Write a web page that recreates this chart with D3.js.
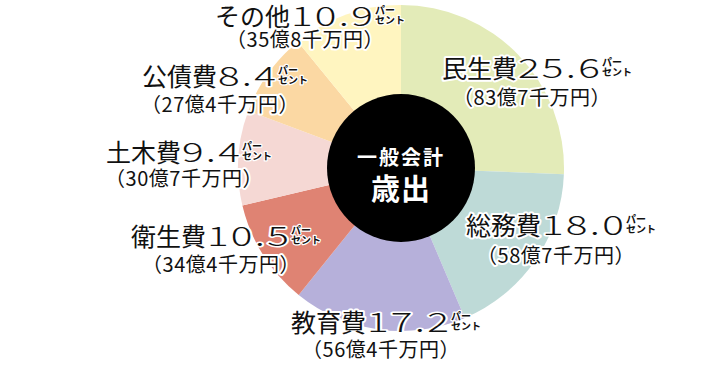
<!DOCTYPE html>
<html><head><meta charset="utf-8">
<script src="https://cdn.jsdelivr.net/npm/d3@7"></script>
<style>
html,body{margin:0;padding:0;background:#fff;}
svg{display:block;}
text{font-family:"Noto Sans CJK JP","Noto Sans",sans-serif;}
</style></head><body>
<svg id="chart" width="711" height="382"></svg>
<script>
// data
const categories = ["民生費","総務費","教育費","衛生費","土木費","公債費","その他"];
const percents   = [25.6, 18.0, 17.2, 10.5, 9.4, 8.4, 10.9];
const okuValues  = [83, 58, 56, 34, 30, 27, 35];
const senValues  = [7, 7, 4, 4, 7, 4, 8];
const colors     = ["#e3ebb8","#bedad7","#b6b0da","#df8373","#f5d8d4","#fbd8a3","#fff5c0"];
const centerLines = ["一般会計","歳出"];

// layout
const cx = 401, cy = 168, R = 163, rIn = 74;
const labelPos = [
  {x:532, y1:78,  y2:105},
  {x:556, y1:235, y2:263},
  {x:381, y1:332, y2:357},
  {x:221, y1:246, y2:272},
  {x:184, y1:162, y2:186},
  {x:220, y1:86,  y2:112},
  {x:305, y1:26,  y2:47}
];

const svg = d3.select("#chart");
const data = categories.map((c,i)=>({name:c, pct:percents[i], oku:okuValues[i], sen:senValues[i], color:colors[i], pos:labelPos[i]}));

const pie = d3.pie().sort(null).value(d=>d.pct);
const arc = d3.arc().innerRadius(0).outerRadius(R);
const g = svg.append("g").attr("transform",`translate(${cx},${cy})`);
g.selectAll("path").data(pie(data)).join("path")
  .attr("d",arc).attr("fill",d=>d.data.color);

g.append("circle").attr("r",rIn).attr("fill","#000");
g.append("text").attr("text-anchor","middle").attr("y",-3)
  .attr("fill","#fff").attr("font-weight",700).attr("font-size",20).attr("letter-spacing",2)
  .text(centerLines[0]);
g.append("text").attr("text-anchor","middle").attr("y",32)
  .attr("fill","#fff").attr("font-weight",700).attr("font-size",29).attr("letter-spacing",1)
  .text(centerLines[1]);

const fmt = d3.format(".1f");
const labels = svg.append("g");
const halo = sel => sel.attr("fill","#111").attr("stroke","#fff").attr("stroke-linejoin","round").attr("paint-order","stroke");
const SX = 1.5;
data.forEach(d=>{
  const lg = labels.append("g");
  const kt = lg.append("text").attr("y",d.pos.y1).attr("font-size",25).attr("stroke-width",4).call(halo).text(d.name);
  const kw = kt.node().getComputedTextLength();
  const nt = lg.append("text").attr("font-size",27).attr("font-weight",300).attr("letter-spacing",1.5)
    .attr("stroke-width",3).call(halo).text(fmt(d.pct));
  const nw = nt.node().getComputedTextLength()*SX;
  const pw = 20, gap = 1;
  const total = kw + gap + nw + pw;
  const x0 = d.pos.x - total/2;
  kt.attr("x",x0);
  nt.attr("transform",`translate(${x0+kw+gap},${d.pos.y1}) scale(${SX},1)`);
  const px = x0 + kw + gap + nw;
  const pt = lg.append("text").attr("stroke-width",2.5).call(halo)
    .attr("font-size",10).attr("font-weight",700);
  pt.append("tspan").attr("x",px).attr("y",d.pos.y1-12).text("パー");
  pt.append("tspan").attr("x",px).attr("y",d.pos.y1-2).text("セント");
  lg.append("text").attr("x",d.pos.x).attr("y",d.pos.y2).attr("text-anchor","middle")
    .attr("stroke-width",4).call(halo)
    .attr("font-size",20).attr("letter-spacing",0.5)
    .text(`（${d.oku}億${d.sen}千万円）`);
});
</script>
</body></html>
